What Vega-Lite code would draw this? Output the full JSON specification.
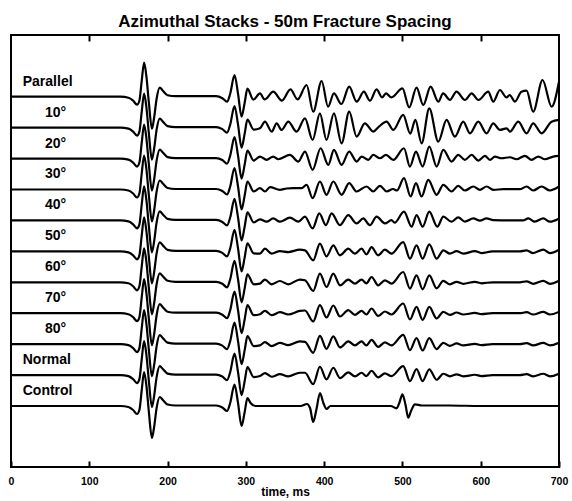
{
"$schema":"https://vega.github.io/schema/vega-lite/v6.json",
"width":548,"height":432,
"autosize":{"type":"none"},
"padding":{"left":11,"top":35,"right":13,"bottom":34},
"background":"white",
"config":{"view":{"stroke":"black","strokeWidth":2},"font":"Liberation Sans"},
"title":{"text":"Azimuthal Stacks - 50m Fracture Spacing","fontSize":17,"fontWeight":"bold","color":"black","baseline":"alphabetic","offset":-10,"anchor":"middle","font":"Liberation Sans"},
"resolve":{"axis":{"x":"independent"}},
"datasets":{
"lb":[{"k":0,"s":"Parallel","g":"w"},{"k":1,"s":"10°","g":"d"},{"k":2,"s":"20°","g":"d"},{"k":3,"s":"30°","g":"d"},{"k":4,"s":"40°","g":"d"},{"k":5,"s":"50°","g":"d"},{"k":6,"s":"60°","g":"d"},{"k":7,"s":"70°","g":"d"},{"k":8,"s":"80°","g":"d"},{"k":9,"s":"Normal","g":"w"},{"k":10,"s":"Control","g":"w"}],
"tr":[
{"k":0,"t":0,"a":0},{"k":0,"t":140,"a":0},{"k":0,"t":150,"a":-1},{"k":0,"t":156,"a":-4},{"k":0,"t":161,"a":-8},{"k":0,"t":164,"a":-4},{"k":0,"t":167,"a":16},{"k":0,"t":170,"a":34},{"k":0,"t":173,"a":20},{"k":0,"t":176,"a":-5},{"k":0,"t":180,"a":-32},{"k":0,"t":183,"a":-20},{"k":0,"t":186,"a":-2},{"k":0,"t":190,"a":9},{"k":0,"t":194,"a":6},{"k":0,"t":200,"a":1.5},{"k":0,"t":210,"a":0.5},{"k":0,"t":262,"a":0.5},{"k":0,"t":270,"a":-1.5},{"k":0,"t":276,"a":-5},{"k":0,"t":280,"a":3},{"k":0,"t":285.5,"a":21.5},{"k":0,"t":290,"a":3},{"k":0,"t":294.5,"a":-20},{"k":0,"t":298.5,"a":-6},{"k":0,"t":302,"a":8},
{"k":0,"t":309.5,"a":-3},{"k":0,"t":318,"a":3.3},{"k":0,"t":324,"a":-2.7},{"k":0,"t":335,"a":5},{"k":0,"t":346,"a":-4},{"k":0,"t":357,"a":7.3},{"k":0,"t":366,"a":-2.7},{"k":0,"t":377.6,"a":11.7},{"k":0,"t":386,"a":-15},{"k":0,"t":396.8,"a":15.7},{"k":0,"t":405,"a":-10},{"k":0,"t":412.5,"a":3.3},{"k":0,"t":422,"a":-7.3},{"k":0,"t":432,"a":10},{"k":0,"t":441.5,"a":-5},{"k":0,"t":450.8,"a":5},{"k":0,"t":458.5,"a":-4},{"k":0,"t":467,"a":7.3},{"k":0,"t":474,"a":-0.7},{"k":0,"t":479,"a":3.3},{"k":0,"t":486,"a":-0.7},{"k":0,"t":500,"a":8.3},{"k":0,"t":508.7,"a":-10.7},{"k":0,"t":518,"a":9},{"k":0,"t":526.6,"a":-8.3},{"k":0,"t":536,"a":10},{"k":0,"t":545.8,"a":-5},{"k":0,"t":552,"a":3.3},{"k":0,"t":560.7,"a":-3.3},{"k":0,"t":569,"a":5},{"k":0,"t":580,"a":-3.3},{"k":0,"t":588.4,"a":3.3},{"k":0,"t":597,"a":-3.3},{"k":0,"t":609.6,"a":5},{"k":0,"t":616,"a":-5},{"k":0,"t":624.5,"a":6.7},{"k":0,"t":633,"a":-0.7},{"k":0,"t":637,"a":1.7},{"k":0,"t":643.7,"a":-5},{"k":0,"t":652,"a":5},{"k":0,"t":658.6,"a":6},{"k":0,"t":667,"a":-15},{"k":0,"t":679,"a":16.7},{"k":0,"t":690.5,"a":-10},{"k":0,"t":700,"a":15},
{"k":1,"t":0,"a":0},{"k":1,"t":140,"a":0},{"k":1,"t":150,"a":-1},{"k":1,"t":156,"a":-4},{"k":1,"t":161,"a":-8},{"k":1,"t":164,"a":-4},{"k":1,"t":167,"a":16},{"k":1,"t":170,"a":34},{"k":1,"t":173,"a":20},{"k":1,"t":176,"a":-5},{"k":1,"t":180,"a":-32},{"k":1,"t":183,"a":-20},{"k":1,"t":186,"a":-2},{"k":1,"t":190,"a":9},{"k":1,"t":194,"a":6},{"k":1,"t":200,"a":1.5},{"k":1,"t":210,"a":0.5},{"k":1,"t":262,"a":0.5},{"k":1,"t":270,"a":-1.5},{"k":1,"t":276,"a":-5},{"k":1,"t":280,"a":3},{"k":1,"t":285.5,"a":21.5},{"k":1,"t":290,"a":3},{"k":1,"t":294.5,"a":-20},{"k":1,"t":298.5,"a":-6},{"k":1,"t":302,"a":8},
{"k":1,"t":310,"a":-2},{"k":1,"t":318,"a":-0.7},{"k":1,"t":324.4,"a":6},{"k":1,"t":333,"a":-4},{"k":1,"t":339.3,"a":4.3},{"k":1,"t":345.7,"a":-2.3},{"k":1,"t":354.2,"a":6},{"k":1,"t":364.8,"a":-4},{"k":1,"t":375.5,"a":9.3},{"k":1,"t":385.3,"a":-12.3},{"k":1,"t":394.6,"a":14.3},{"k":1,"t":403,"a":-12.3},{"k":1,"t":412.5,"a":14.3},{"k":1,"t":422.3,"a":-15.7},{"k":1,"t":432,"a":16},{"k":1,"t":441.5,"a":-9},{"k":1,"t":452,"a":4.3},{"k":1,"t":462.7,"a":-4},{"k":1,"t":470,"a":1},{"k":1,"t":479.8,"a":6},{"k":1,"t":488.3,"a":-2.3},{"k":1,"t":501,"a":12.7},{"k":1,"t":510,"a":-6},{"k":1,"t":516.5,"a":7.7},{"k":1,"t":524.5,"a":-15.7},{"k":1,"t":534.3,"a":19.3},{"k":1,"t":545.8,"a":-14},{"k":1,"t":556.4,"a":7.7},{"k":1,"t":567,"a":-9},{"k":1,"t":577.7,"a":6},{"k":1,"t":586.2,"a":-5.7},{"k":1,"t":596.9,"a":6},{"k":1,"t":607.5,"a":-5.7},{"k":1,"t":616,"a":4.3},{"k":1,"t":624.5,"a":-2.3},{"k":1,"t":633,"a":-0.7},{"k":1,"t":637.3,"a":-4},{"k":1,"t":648,"a":6},{"k":1,"t":658.6,"a":-5.7},{"k":1,"t":667,"a":4.3},{"k":1,"t":677.8,"a":-5.7},{"k":1,"t":690.5,"a":6},{"k":1,"t":700,"a":7.7},
{"k":2,"t":0,"a":0},{"k":2,"t":140,"a":0},{"k":2,"t":150,"a":-1},{"k":2,"t":156,"a":-4},{"k":2,"t":161,"a":-8},{"k":2,"t":164,"a":-4},{"k":2,"t":167,"a":16},{"k":2,"t":170,"a":34},{"k":2,"t":173,"a":20},{"k":2,"t":176,"a":-5},{"k":2,"t":180,"a":-32},{"k":2,"t":183,"a":-20},{"k":2,"t":186,"a":-2},{"k":2,"t":190,"a":9},{"k":2,"t":194,"a":6},{"k":2,"t":200,"a":1.5},{"k":2,"t":210,"a":0.5},{"k":2,"t":262,"a":0.5},{"k":2,"t":270,"a":-1.5},{"k":2,"t":276,"a":-5},{"k":2,"t":280,"a":3},{"k":2,"t":285.5,"a":21.5},{"k":2,"t":290,"a":3},{"k":2,"t":294.5,"a":-20},{"k":2,"t":298.5,"a":-6},{"k":2,"t":302,"a":8},
{"k":2,"t":310,"a":-2},{"k":2,"t":318,"a":2},{"k":2,"t":326.5,"a":-1.3},{"k":2,"t":335,"a":2},{"k":2,"t":341.4,"a":-0.7},{"k":2,"t":356.3,"a":3.7},{"k":2,"t":367,"a":-3},{"k":2,"t":375.5,"a":7},{"k":2,"t":385.3,"a":-11.3},{"k":2,"t":395.5,"a":10.3},{"k":2,"t":405.3,"a":-6.3},{"k":2,"t":412.5,"a":8.7},{"k":2,"t":422.3,"a":-6.3},{"k":2,"t":432,"a":7},{"k":2,"t":441.5,"a":-3},{"k":2,"t":447.8,"a":2},{"k":2,"t":456.4,"a":-1.3},{"k":2,"t":462.7,"a":3.7},{"k":2,"t":471.3,"a":0.3},{"k":2,"t":479,"a":3.7},{"k":2,"t":488.3,"a":-1.3},{"k":2,"t":502,"a":10.3},{"k":2,"t":509.6,"a":-8},{"k":2,"t":517.3,"a":7},{"k":2,"t":525.8,"a":-8},{"k":2,"t":534.3,"a":12},{"k":2,"t":543.7,"a":-8},{"k":2,"t":552.2,"a":8.7},{"k":2,"t":562.8,"a":-3},{"k":2,"t":571.3,"a":3.7},{"k":2,"t":579.8,"a":-1.3},{"k":2,"t":588.4,"a":3.7},{"k":2,"t":596.9,"a":-2},{"k":2,"t":605.4,"a":2.7},{"k":2,"t":611.8,"a":-1.3},{"k":2,"t":618.2,"a":2},{"k":2,"t":626.7,"a":0.3},{"k":2,"t":637.3,"a":1.3},{"k":2,"t":645.8,"a":-0.7},{"k":2,"t":656.5,"a":2.7},{"k":2,"t":665,"a":-1.3},{"k":2,"t":673.5,"a":2},{"k":2,"t":682,"a":-0.7},{"k":2,"t":692.7,"a":2},{"k":2,"t":700,"a":2.7},
{"k":3,"t":0,"a":0},{"k":3,"t":140,"a":0},{"k":3,"t":150,"a":-1},{"k":3,"t":156,"a":-4},{"k":3,"t":161,"a":-8},{"k":3,"t":164,"a":-4},{"k":3,"t":167,"a":16},{"k":3,"t":170,"a":34},{"k":3,"t":173,"a":20},{"k":3,"t":176,"a":-5},{"k":3,"t":180,"a":-32},{"k":3,"t":183,"a":-20},{"k":3,"t":186,"a":-2},{"k":3,"t":190,"a":9},{"k":3,"t":194,"a":6},{"k":3,"t":200,"a":1.5},{"k":3,"t":210,"a":0.5},{"k":3,"t":262,"a":0.5},{"k":3,"t":270,"a":-1.5},{"k":3,"t":276,"a":-5},{"k":3,"t":280,"a":3},{"k":3,"t":285.5,"a":21.5},{"k":3,"t":290,"a":3},{"k":3,"t":294.5,"a":-20},{"k":3,"t":298.5,"a":-6},{"k":3,"t":302,"a":8},
{"k":3,"t":310,"a":-2},{"k":3,"t":318,"a":1.3},{"k":3,"t":324.4,"a":-2},{"k":3,"t":330.8,"a":2.3},{"k":3,"t":343.5,"a":-0.3},{"k":3,"t":352,"a":1},{"k":3,"t":360.6,"a":1.3},{"k":3,"t":371.2,"a":1.3},{"k":3,"t":377.6,"a":4.7},{"k":3,"t":385.3,"a":-8.7},{"k":3,"t":394.6,"a":8},{"k":3,"t":403,"a":-5.3},{"k":3,"t":411.7,"a":8},{"k":3,"t":422.3,"a":-5.3},{"k":3,"t":432,"a":6.3},{"k":3,"t":441.5,"a":-2},{"k":3,"t":454.2,"a":3},{"k":3,"t":462.7,"a":-2},{"k":3,"t":471.3,"a":3.7},{"k":3,"t":479.8,"a":-2},{"k":3,"t":488,"a":0.5},{"k":3,"t":493,"a":-1},{"k":3,"t":502,"a":11.3},{"k":3,"t":510.4,"a":-7},{"k":3,"t":517.3,"a":6.3},{"k":3,"t":524.5,"a":-7},{"k":3,"t":533,"a":9.7},{"k":3,"t":543.7,"a":-5.3},{"k":3,"t":552.2,"a":4.7},{"k":3,"t":562.8,"a":-2},{"k":3,"t":571.3,"a":3.7},{"k":3,"t":579.8,"a":-1},{"k":3,"t":590.5,"a":3},{"k":3,"t":599,"a":-0.3},{"k":3,"t":607.5,"a":3},{"k":3,"t":616,"a":-0.3},{"k":3,"t":629,"a":0.3},{"k":3,"t":650,"a":0.3},{"k":3,"t":658.6,"a":3},{"k":3,"t":667,"a":-1},{"k":3,"t":677.8,"a":3},{"k":3,"t":688.4,"a":-1},{"k":3,"t":700,"a":3},
{"k":4,"t":0,"a":0},{"k":4,"t":140,"a":0},{"k":4,"t":150,"a":-1},{"k":4,"t":156,"a":-4},{"k":4,"t":161,"a":-8},{"k":4,"t":164,"a":-4},{"k":4,"t":167,"a":16},{"k":4,"t":170,"a":34},{"k":4,"t":173,"a":20},{"k":4,"t":176,"a":-5},{"k":4,"t":180,"a":-32},{"k":4,"t":183,"a":-20},{"k":4,"t":186,"a":-2},{"k":4,"t":190,"a":9},{"k":4,"t":194,"a":6},{"k":4,"t":200,"a":1.5},{"k":4,"t":210,"a":0.5},{"k":4,"t":262,"a":0.5},{"k":4,"t":270,"a":-1.5},{"k":4,"t":276,"a":-5},{"k":4,"t":280,"a":3},{"k":4,"t":285.5,"a":21.5},{"k":4,"t":290,"a":3},{"k":4,"t":294.5,"a":-20},{"k":4,"t":298.5,"a":-6},{"k":4,"t":302,"a":8},
{"k":4,"t":310,"a":-2},{"k":4,"t":318,"a":1},{"k":4,"t":326.5,"a":-1.3},{"k":4,"t":335,"a":2},{"k":4,"t":343.5,"a":-1.3},{"k":4,"t":356.3,"a":2.7},{"k":4,"t":367,"a":-1.3},{"k":4,"t":375.5,"a":3.7},{"k":4,"t":385.3,"a":-8},{"k":4,"t":393.8,"a":7},{"k":4,"t":402.3,"a":-4.7},{"k":4,"t":409.5,"a":7},{"k":4,"t":420.2,"a":-4.7},{"k":4,"t":430.8,"a":5.3},{"k":4,"t":441.5,"a":-3},{"k":4,"t":450,"a":2},{"k":4,"t":458.5,"a":-4.7},{"k":4,"t":467,"a":3.7},{"k":4,"t":477.6,"a":-3},{"k":4,"t":486,"a":0.3},{"k":4,"t":490,"a":-2.3},{"k":4,"t":502,"a":8.7},{"k":4,"t":511.7,"a":-6.3},{"k":4,"t":518.1,"a":5.3},{"k":4,"t":525.8,"a":-6.3},{"k":4,"t":534.3,"a":8.7},{"k":4,"t":544.5,"a":-6.3},{"k":4,"t":552.2,"a":3.7},{"k":4,"t":562.8,"a":-1.3},{"k":4,"t":571.3,"a":3},{"k":4,"t":579.8,"a":-1.3},{"k":4,"t":590.5,"a":2},{"k":4,"t":599,"a":-0.3},{"k":4,"t":607.5,"a":2},{"k":4,"t":616,"a":0.3},{"k":4,"t":654,"a":0},{"k":4,"t":660.7,"a":2},{"k":4,"t":669.2,"a":-1.3},{"k":4,"t":679.9,"a":2},{"k":4,"t":688.4,"a":-1.3},{"k":4,"t":700,"a":2},
{"k":5,"t":0,"a":0},{"k":5,"t":140,"a":0},{"k":5,"t":150,"a":-1},{"k":5,"t":156,"a":-4},{"k":5,"t":161,"a":-8},{"k":5,"t":164,"a":-4},{"k":5,"t":167,"a":16},{"k":5,"t":170,"a":34},{"k":5,"t":173,"a":20},{"k":5,"t":176,"a":-5},{"k":5,"t":180,"a":-32},{"k":5,"t":183,"a":-20},{"k":5,"t":186,"a":-2},{"k":5,"t":190,"a":9},{"k":5,"t":194,"a":6},{"k":5,"t":200,"a":1.5},{"k":5,"t":210,"a":0.5},{"k":5,"t":262,"a":0.5},{"k":5,"t":270,"a":-1.5},{"k":5,"t":276,"a":-5},{"k":5,"t":280,"a":3},{"k":5,"t":285.5,"a":21.5},{"k":5,"t":290,"a":3},{"k":5,"t":294.5,"a":-20},{"k":5,"t":298.5,"a":-6},{"k":5,"t":302,"a":8},
{"k":5,"t":310,"a":-2},{"k":5,"t":318,"a":-2.3},{"k":5,"t":324.4,"a":2.7},{"k":5,"t":333,"a":-2.3},{"k":5,"t":343.5,"a":0.3},{"k":5,"t":354,"a":-0.7},{"k":5,"t":369,"a":1.7},{"k":5,"t":375.5,"a":1},{"k":5,"t":386,"a":-9},{"k":5,"t":394.6,"a":7.7},{"k":5,"t":403,"a":-5},{"k":5,"t":411.7,"a":6},{"k":5,"t":420.2,"a":-4},{"k":5,"t":430.8,"a":2.7},{"k":5,"t":439.3,"a":-2.3},{"k":5,"t":447.8,"a":2.7},{"k":5,"t":454,"a":-3},{"k":5,"t":460.6,"a":4.3},{"k":5,"t":469,"a":-4},{"k":5,"t":477.6,"a":1.7},{"k":5,"t":486,"a":-2.3},{"k":5,"t":501,"a":9.3},{"k":5,"t":509.6,"a":-7.3},{"k":5,"t":518,"a":6},{"k":5,"t":525.8,"a":-7.3},{"k":5,"t":534.3,"a":7},{"k":5,"t":543.7,"a":-7.3},{"k":5,"t":552.2,"a":1},{"k":5,"t":560.7,"a":-2.3},{"k":5,"t":569.2,"a":0.3},{"k":5,"t":577.7,"a":-2.3},{"k":5,"t":592.6,"a":0.3},{"k":5,"t":601,"a":-1.7},{"k":5,"t":615,"a":0},{"k":5,"t":650,"a":0},{"k":5,"t":658.6,"a":1},{"k":5,"t":667,"a":-1.7},{"k":5,"t":679.9,"a":1.7},{"k":5,"t":688.4,"a":-1.7},{"k":5,"t":700,"a":1.7},
{"k":6,"t":0,"a":0},{"k":6,"t":140,"a":0},{"k":6,"t":150,"a":-1},{"k":6,"t":156,"a":-4},{"k":6,"t":161,"a":-8},{"k":6,"t":164,"a":-4},{"k":6,"t":167,"a":16},{"k":6,"t":170,"a":34},{"k":6,"t":173,"a":20},{"k":6,"t":176,"a":-5},{"k":6,"t":180,"a":-32},{"k":6,"t":183,"a":-20},{"k":6,"t":186,"a":-2},{"k":6,"t":190,"a":9},{"k":6,"t":194,"a":6},{"k":6,"t":200,"a":1.5},{"k":6,"t":210,"a":0.5},{"k":6,"t":262,"a":0.5},{"k":6,"t":270,"a":-1.5},{"k":6,"t":276,"a":-5},{"k":6,"t":280,"a":3},{"k":6,"t":285.5,"a":21.5},{"k":6,"t":290,"a":3},{"k":6,"t":294.5,"a":-20},{"k":6,"t":298.5,"a":-6},{"k":6,"t":302,"a":8},
{"k":6,"t":310,"a":-2},{"k":6,"t":318,"a":-1.3},{"k":6,"t":324.4,"a":2.7},{"k":6,"t":333,"a":-2},{"k":6,"t":343.5,"a":1.3},{"k":6,"t":354,"a":-2},{"k":6,"t":369,"a":2.7},{"k":6,"t":375.5,"a":2},{"k":6,"t":386,"a":-8.7},{"k":6,"t":394.6,"a":8.7},{"k":6,"t":403,"a":-4.7},{"k":6,"t":411.7,"a":8.7},{"k":6,"t":420.2,"a":-3},{"k":6,"t":430.8,"a":2.7},{"k":6,"t":439.3,"a":-1.3},{"k":6,"t":447.8,"a":2.7},{"k":6,"t":454,"a":-1},{"k":6,"t":460.6,"a":5.3},{"k":6,"t":469,"a":-3},{"k":6,"t":477.6,"a":2},{"k":6,"t":486,"a":-1.3},{"k":6,"t":501,"a":10.3},{"k":6,"t":509.6,"a":-6.3},{"k":6,"t":518,"a":7},{"k":6,"t":525.8,"a":-7},{"k":6,"t":534.3,"a":7},{"k":6,"t":543.7,"a":-6},{"k":6,"t":552.2,"a":1.5},{"k":6,"t":560.7,"a":-2},{"k":6,"t":569.2,"a":0.5},{"k":6,"t":577.7,"a":-1.5},{"k":6,"t":592.6,"a":0.5},{"k":6,"t":601,"a":-1},{"k":6,"t":615,"a":0},{"k":6,"t":650,"a":0},{"k":6,"t":658.6,"a":1},{"k":6,"t":667,"a":-1.5},{"k":6,"t":679.9,"a":1.5},{"k":6,"t":688.4,"a":-1.5},{"k":6,"t":700,"a":1.5},
{"k":7,"t":0,"a":0},{"k":7,"t":140,"a":0},{"k":7,"t":150,"a":-1},{"k":7,"t":156,"a":-4},{"k":7,"t":161,"a":-8},{"k":7,"t":164,"a":-4},{"k":7,"t":167,"a":16},{"k":7,"t":170,"a":34},{"k":7,"t":173,"a":20},{"k":7,"t":176,"a":-5},{"k":7,"t":180,"a":-32},{"k":7,"t":183,"a":-20},{"k":7,"t":186,"a":-2},{"k":7,"t":190,"a":9},{"k":7,"t":194,"a":6},{"k":7,"t":200,"a":1.5},{"k":7,"t":210,"a":0.5},{"k":7,"t":262,"a":0.5},{"k":7,"t":270,"a":-1.5},{"k":7,"t":276,"a":-5},{"k":7,"t":280,"a":3},{"k":7,"t":285.5,"a":21.5},{"k":7,"t":290,"a":3},{"k":7,"t":294.5,"a":-20},{"k":7,"t":298.5,"a":-6},{"k":7,"t":302,"a":8},
{"k":7,"t":310,"a":-2},{"k":7,"t":318,"a":-1},{"k":7,"t":324.4,"a":2.3},{"k":7,"t":333,"a":-2},{"k":7,"t":343.5,"a":1},{"k":7,"t":354,"a":-1.3},{"k":7,"t":369,"a":2.3},{"k":7,"t":375.5,"a":2.7},{"k":7,"t":386,"a":-8.3},{"k":7,"t":394.6,"a":8},{"k":7,"t":403,"a":-4.3},{"k":7,"t":411.7,"a":7.7},{"k":7,"t":420.2,"a":-3.3},{"k":7,"t":430.8,"a":3},{"k":7,"t":439.3,"a":-1.7},{"k":7,"t":447.8,"a":2.3},{"k":7,"t":454,"a":-1.3},{"k":7,"t":460.6,"a":4.7},{"k":7,"t":469,"a":-2.7},{"k":7,"t":477.6,"a":1.7},{"k":7,"t":486,"a":-1.3},{"k":7,"t":501,"a":9.7},{"k":7,"t":509.6,"a":-6.3},{"k":7,"t":518,"a":6.3},{"k":7,"t":525.8,"a":-6.7},{"k":7,"t":534.3,"a":6.3},{"k":7,"t":543.7,"a":-5.3},{"k":7,"t":552.2,"a":1.3},{"k":7,"t":560.7,"a":-1.7},{"k":7,"t":569.2,"a":0.7},{"k":7,"t":577.7,"a":-1.3},{"k":7,"t":592.6,"a":0.3},{"k":7,"t":601,"a":-1},{"k":7,"t":615,"a":0},{"k":7,"t":650,"a":0},{"k":7,"t":658.6,"a":1},{"k":7,"t":667,"a":-1.3},{"k":7,"t":679.9,"a":1.3},{"k":7,"t":688.4,"a":-1.3},{"k":7,"t":700,"a":1.3},
{"k":8,"t":0,"a":0},{"k":8,"t":140,"a":0},{"k":8,"t":150,"a":-1},{"k":8,"t":156,"a":-4},{"k":8,"t":161,"a":-8},{"k":8,"t":164,"a":-4},{"k":8,"t":167,"a":16},{"k":8,"t":170,"a":34},{"k":8,"t":173,"a":20},{"k":8,"t":176,"a":-5},{"k":8,"t":180,"a":-32},{"k":8,"t":183,"a":-20},{"k":8,"t":186,"a":-2},{"k":8,"t":190,"a":9},{"k":8,"t":194,"a":6},{"k":8,"t":200,"a":1.5},{"k":8,"t":210,"a":0.5},{"k":8,"t":262,"a":0.5},{"k":8,"t":270,"a":-1.5},{"k":8,"t":276,"a":-5},{"k":8,"t":280,"a":3},{"k":8,"t":285.5,"a":21.5},{"k":8,"t":290,"a":3},{"k":8,"t":294.5,"a":-20},{"k":8,"t":298.5,"a":-6},{"k":8,"t":302,"a":8},
{"k":8,"t":310,"a":-2},{"k":8,"t":318,"a":-1.3},{"k":8,"t":324.4,"a":2},{"k":8,"t":333,"a":-2},{"k":8,"t":343.5,"a":1.3},{"k":8,"t":354,"a":-1},{"k":8,"t":369,"a":2.7},{"k":8,"t":375.5,"a":2.3},{"k":8,"t":386,"a":-8.7},{"k":8,"t":394.6,"a":8.3},{"k":8,"t":403,"a":-4.7},{"k":8,"t":411.7,"a":7.7},{"k":8,"t":420.2,"a":-3.3},{"k":8,"t":430.8,"a":2.7},{"k":8,"t":439.3,"a":-1.3},{"k":8,"t":447.8,"a":2.7},{"k":8,"t":454,"a":-1.3},{"k":8,"t":460.6,"a":4.3},{"k":8,"t":469,"a":-2.7},{"k":8,"t":477.6,"a":1.7},{"k":8,"t":486,"a":-1.3},{"k":8,"t":501,"a":9.3},{"k":8,"t":509.6,"a":-6},{"k":8,"t":518,"a":6},{"k":8,"t":525.8,"a":-6.3},{"k":8,"t":534.3,"a":6},{"k":8,"t":543.7,"a":-5},{"k":8,"t":552.2,"a":1.3},{"k":8,"t":560.7,"a":-1.7},{"k":8,"t":569.2,"a":0.7},{"k":8,"t":577.7,"a":-1.3},{"k":8,"t":592.6,"a":0.3},{"k":8,"t":601,"a":-1},{"k":8,"t":615,"a":0},{"k":8,"t":650,"a":0},{"k":8,"t":658.6,"a":1},{"k":8,"t":667,"a":-1.3},{"k":8,"t":679.9,"a":1.3},{"k":8,"t":688.4,"a":-1.3},{"k":8,"t":700,"a":1.3},
{"k":9,"t":0,"a":0},{"k":9,"t":140,"a":0},{"k":9,"t":150,"a":-1},{"k":9,"t":156,"a":-4},{"k":9,"t":161,"a":-8},{"k":9,"t":164,"a":-4},{"k":9,"t":167,"a":16},{"k":9,"t":170,"a":34},{"k":9,"t":173,"a":20},{"k":9,"t":176,"a":-5},{"k":9,"t":180,"a":-32},{"k":9,"t":183,"a":-20},{"k":9,"t":186,"a":-2},{"k":9,"t":190,"a":9},{"k":9,"t":194,"a":6},{"k":9,"t":200,"a":1.5},{"k":9,"t":210,"a":0.5},{"k":9,"t":262,"a":0.5},{"k":9,"t":270,"a":-1.5},{"k":9,"t":276,"a":-5},{"k":9,"t":280,"a":3},{"k":9,"t":285.5,"a":21.5},{"k":9,"t":290,"a":3},{"k":9,"t":294.5,"a":-20},{"k":9,"t":298.5,"a":-6},{"k":9,"t":302,"a":8},
{"k":9,"t":310,"a":-2},{"k":9,"t":318,"a":-1},{"k":9,"t":324.4,"a":2},{"k":9,"t":333,"a":-1.7},{"k":9,"t":343.5,"a":1},{"k":9,"t":354,"a":-1.3},{"k":9,"t":369,"a":2.3},{"k":9,"t":375.5,"a":2.3},{"k":9,"t":386,"a":-9},{"k":9,"t":394.6,"a":8.3},{"k":9,"t":403,"a":-4.3},{"k":9,"t":411.7,"a":7.3},{"k":9,"t":420.2,"a":-3},{"k":9,"t":430.8,"a":2.7},{"k":9,"t":439.3,"a":-1.3},{"k":9,"t":447.8,"a":2.3},{"k":9,"t":454,"a":-1},{"k":9,"t":460.6,"a":4.3},{"k":9,"t":469,"a":-2.3},{"k":9,"t":477.6,"a":1.7},{"k":9,"t":486,"a":-1},{"k":9,"t":501,"a":9},{"k":9,"t":509.6,"a":-6},{"k":9,"t":518,"a":6},{"k":9,"t":525.8,"a":-6},{"k":9,"t":534.3,"a":5.7},{"k":9,"t":543.7,"a":-4.7},{"k":9,"t":552.2,"a":1.3},{"k":9,"t":560.7,"a":-1.3},{"k":9,"t":569.2,"a":0.7},{"k":9,"t":577.7,"a":-1.3},{"k":9,"t":592.6,"a":0.3},{"k":9,"t":601,"a":-1},{"k":9,"t":615,"a":0},{"k":9,"t":650,"a":0},{"k":9,"t":658.6,"a":1},{"k":9,"t":667,"a":-1.3},{"k":9,"t":679.9,"a":1.3},{"k":9,"t":688.4,"a":-1.3},{"k":9,"t":700,"a":1.3},
{"k":10,"t":0,"a":0},{"k":10,"t":140,"a":0},{"k":10,"t":150,"a":-1},{"k":10,"t":156,"a":-4},{"k":10,"t":161,"a":-8},{"k":10,"t":164,"a":-4},{"k":10,"t":167,"a":16},{"k":10,"t":170,"a":34},{"k":10,"t":173,"a":20},{"k":10,"t":176,"a":-5},{"k":10,"t":180,"a":-32},{"k":10,"t":183,"a":-20},{"k":10,"t":186,"a":-2},{"k":10,"t":190,"a":9},{"k":10,"t":194,"a":6},{"k":10,"t":200,"a":1.5},{"k":10,"t":210,"a":0.5},{"k":10,"t":262,"a":0.5},{"k":10,"t":270,"a":-1.5},{"k":10,"t":276,"a":-5},{"k":10,"t":280,"a":3},{"k":10,"t":285.5,"a":21.5},{"k":10,"t":290,"a":3},{"k":10,"t":294.5,"a":-20},{"k":10,"t":298.5,"a":-6},{"k":10,"t":302,"a":8},
{"k":10,"t":306,"a":3},{"k":10,"t":312,"a":0},{"k":10,"t":370,"a":0},{"k":10,"t":378,"a":2},{"k":10,"t":382,"a":-2},{"k":10,"t":386,"a":-16},{"k":10,"t":390,"a":-4},{"k":10,"t":394.7,"a":13},{"k":10,"t":399,"a":3},{"k":10,"t":403,"a":-3},{"k":10,"t":408,"a":0},{"k":10,"t":485,"a":0},{"k":10,"t":492.5,"a":-2.3},{"k":10,"t":496,"a":3},{"k":10,"t":500,"a":11.7},{"k":10,"t":504,"a":1},{"k":10,"t":507.4,"a":-11.7},{"k":10,"t":511,"a":-5},{"k":10,"t":516,"a":1.7},{"k":10,"t":525,"a":0.5},{"k":10,"t":560,"a":0.5},{"k":10,"t":600,"a":0},{"k":10,"t":700,"a":0}
]},
"layer":[
{"data":{"name":"tr"},
 "transform":[{"calculate":"datum.a + 370.3 - 30.93*datum.k","as":"y"}],
 "mark":{"type":"line","interpolate":"monotone","color":"black","strokeWidth":2.2,"clip":true},
 "encoding":{
  "x":{"field":"t","type":"quantitative","scale":{"domain":[0,700],"nice":false,"zero":false},
       "axis":{"orient":"bottom","values":[0,100,200,300,400,500,600,700],"tickSize":-6,"tickWidth":2,"tickColor":"black","domain":false,"grid":false,"labelFontSize":10.5,"labelFontWeight":"bold","labelColor":"black","labelPadding":15,"labelFlush":false,"labelFont":"Liberation Sans","title":"time, ms","titleFontSize":12,"titleFontWeight":"bold","titleColor":"black","titlePadding":0,"titleFont":"Liberation Sans"}},
  "y":{"field":"y","type":"quantitative","scale":{"domain":[0,432],"nice":false,"zero":false},"axis":null},
  "detail":{"field":"k","type":"nominal"},
  "order":{"field":"t","type":"quantitative"}
 }},
{"data":{"name":"lb"},
 "transform":[{"filter":"datum.g == 'w'"},{"calculate":"385.3 - 30.93*datum.k","as":"y"}],
 "mark":{"type":"text","align":"left","baseline":"middle","fontSize":14,"fontWeight":"bold","font":"Liberation Sans","color":"black"},
 "encoding":{
  "x":{"datum":15,"type":"quantitative","axis":{"orient":"top","values":[100,200,300,400,500,600],"tickSize":-6,"tickWidth":2,"tickColor":"black","domain":false,"grid":false,"labels":false,"title":null,"minExtent":0,"maxExtent":0}},
  "y":{"field":"y","type":"quantitative"},
  "text":{"field":"s"}
 }},
{"data":{"name":"lb"},
 "transform":[{"filter":"datum.g == 'd'"},{"calculate":"385.3 - 30.93*datum.k","as":"y"}],
 "mark":{"type":"text","align":"left","baseline":"middle","fontSize":14,"fontWeight":"bold","font":"Liberation Sans","color":"black"},
 "encoding":{
  "x":{"datum":43.4,"type":"quantitative","axis":null},
  "y":{"field":"y","type":"quantitative"},
  "text":{"field":"s"}
 }}
]
}
